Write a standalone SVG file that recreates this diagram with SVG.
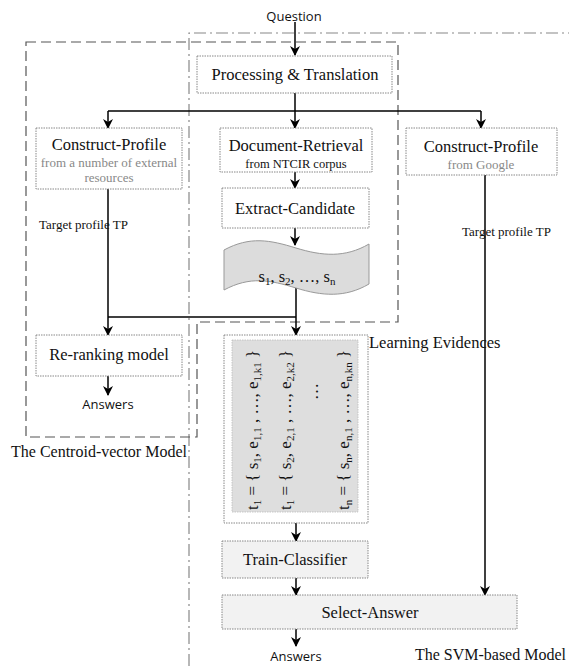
<svg xmlns="http://www.w3.org/2000/svg" width="569" height="666" viewBox="0 0 569 666">
<defs>
<marker id="ah" markerWidth="10" markerHeight="10" refX="9" refY="5" orient="auto" markerUnits="userSpaceOnUse">
<path d="M0,0 L10,5 L0,10 L3,5 Z" fill="#000"/>
</marker>
<style>
.box{fill:#fff;stroke:#888;stroke-width:1;stroke-dasharray:1.5,1}
.gbox{fill:#f2f2f2;stroke:#888;stroke-width:1;stroke-dasharray:1.5,1}
.t{font-family:"Liberation Serif",serif;font-size:16.5px;fill:#111;text-anchor:middle}
.g{font-family:"Liberation Serif",serif;font-size:13px;fill:#888;text-anchor:middle}
.s{font-family:"Liberation Serif",serif;font-size:13px;fill:#111}
.sans{font-family:"Open Sans","DejaVu Sans",sans-serif;font-size:13px;fill:#111;text-anchor:middle}
.m{font-family:"Liberation Serif",serif;font-size:17px;fill:#111}
.c{fill:none;stroke:#000;stroke-width:1.5}
.a{fill:none;stroke:#000;stroke-width:1.5;marker-end:url(#ah)}
</style>
</defs>
<rect width="569" height="666" fill="#fff"/>
<g id="regions">
<path d="M189,666 L189,33 L569,33" fill="none" stroke="#888" stroke-width="1.2" stroke-dasharray="12,4,2,4"/>
<path d="M26,42 L398,42 L398,322 L197,322 L197,437 L26,437 Z" fill="none" stroke="#555" stroke-width="1.2" stroke-dasharray="10,5"/>
<text x="99" y="457" class="t" style="font-size:16px">The Centroid-vector Model</text>
<text x="566" y="660" class="t" style="font-size:16px;text-anchor:end">The SVM-based Model</text>
</g>
<g id="connectors">
<line x1="295" y1="22" x2="295" y2="55" class="a"/>
<line x1="295" y1="93" x2="295" y2="111" class="c"/>
<line x1="108" y1="111" x2="481" y2="111" class="c"/>
<line x1="108" y1="111" x2="108" y2="128" class="a"/>
<line x1="295" y1="111" x2="295" y2="128" class="a"/>
<line x1="481" y1="111" x2="481" y2="128" class="a"/>
<line x1="295" y1="172" x2="295" y2="188" class="a"/>
<line x1="295" y1="228" x2="295" y2="245" class="a"/>
<line x1="108" y1="189" x2="108" y2="317" class="c"/>
<line x1="296" y1="288" x2="296" y2="317" class="c"/>
<line x1="108" y1="317" x2="296" y2="317" class="c"/>
<line x1="108" y1="317" x2="108" y2="335" class="a"/>
<line x1="296" y1="317" x2="296" y2="335" class="a"/>
<line x1="108" y1="376" x2="108" y2="395" class="a"/>
<line x1="296" y1="523" x2="296" y2="541" class="a"/>
<line x1="296" y1="578" x2="296" y2="595" class="a"/>
<line x1="296" y1="629" x2="296" y2="646" class="a"/>
<line x1="485" y1="175" x2="485" y2="595" class="a"/>
<text x="39" y="229" class="s">Target profile TP</text>
<text x="462" y="236" class="s">Target profile TP</text>
</g>
<g id="question"><text x="294" y="21" class="sans">Question</text></g>
<g id="processing">
<rect x="197" y="56" width="195" height="37" class="box"/>
<text x="295" y="80" class="t">Processing &amp; Translation</text>
</g>
<g id="construct-profile-ext">
<rect x="36" y="128" width="146" height="61" class="box"/>
<text x="109" y="150" class="t">Construct-Profile</text>
<text x="109" y="167" class="g">from a number of external</text>
<text x="109" y="182" class="g">resources</text>
</g>
<g id="document-retrieval">
<rect x="220" y="128" width="152" height="44" class="box"/>
<text x="296" y="151" class="t">Document-Retrieval</text>
<text x="296" y="168" class="t" style="font-size:12.5px">from NTCIR corpus</text>
</g>
<g id="construct-profile-google">
<rect x="406" y="128" width="151" height="47" class="box"/>
<text x="481" y="152" class="t">Construct-Profile</text>
<text x="481" y="169" class="g">from Google</text>
</g>
<g id="extract-candidate">
<rect x="222" y="188" width="147" height="40" class="box"/>
<text x="295" y="214" class="t">Extract-Candidate</text>
</g>
<g id="candidates">
<path d="M224,250 C250,236 270,240 296,248 C322,256 345,258 369,244 L369,284 C345,298 322,296 296,288 C270,280 250,276 224,290 Z" fill="#dcdcdc" stroke="#999" stroke-width="1"/>
<text x="297" y="282" class="t">s<tspan font-size="11" dy="3">1</tspan><tspan dy="-3">, s</tspan><tspan font-size="11" dy="3">2</tspan><tspan dy="-3">, …, s</tspan><tspan font-size="11" dy="3">n</tspan></text>
</g>
<g id="re-ranking">
<rect x="36" y="335" width="146" height="41" class="box"/>
<text x="109" y="360" class="t">Re-ranking model</text>
</g>
<g id="answers-centroid"><text x="108" y="409" class="sans">Answers</text></g>
<g id="learning-evidences">
<rect x="224" y="335" width="144" height="188" class="box"/>
<rect x="232" y="340" width="126" height="172" fill="#dedede" stroke="#bbb" stroke-width="0.8" stroke-dasharray="1.5,1"/>
<text x="369" y="348" class="t" style="text-anchor:start">Learning Evidences</text>
<text transform="translate(258,510) rotate(-90)" class="m">t<tspan font-size="11" dy="3">1</tspan><tspan dy="-3"> = { s</tspan><tspan font-size="11" dy="3">1</tspan><tspan dy="-3">, e</tspan><tspan font-size="11" dy="3">1,1</tspan><tspan dy="-3"> , …, e</tspan><tspan font-size="11" dy="3">1,k1</tspan><tspan dy="-3"> }</tspan></text>
<text transform="translate(291,510) rotate(-90)" class="m">t<tspan font-size="11" dy="3">1</tspan><tspan dy="-3"> = { s</tspan><tspan font-size="11" dy="3">2</tspan><tspan dy="-3">, e</tspan><tspan font-size="11" dy="3">2,1</tspan><tspan dy="-3"> , …, e</tspan><tspan font-size="11" dy="3">2,k2</tspan><tspan dy="-3"> }</tspan></text>
<text transform="translate(318,400) rotate(-90)" class="m">…</text>
<text transform="translate(349,510) rotate(-90)" class="m">t<tspan font-size="11" dy="3">n</tspan><tspan dy="-3"> = { s</tspan><tspan font-size="11" dy="3">n</tspan><tspan dy="-3">, e</tspan><tspan font-size="11" dy="3">n,1</tspan><tspan dy="-3"> , …, e</tspan><tspan font-size="11" dy="3">n,kn</tspan><tspan dy="-3"> }</tspan></text>
</g>
<g id="train-classifier">
<rect x="222" y="541" width="146" height="37" class="gbox"/>
<text x="295" y="565" class="t">Train-Classifier</text>
</g>
<g id="select-answer">
<rect x="222" y="595" width="295" height="34" class="gbox"/>
<text x="370" y="618" class="t">Select-Answer</text>
</g>
<g id="answers-svm"><text x="296" y="661" class="sans">Answers</text></g>
</svg>
